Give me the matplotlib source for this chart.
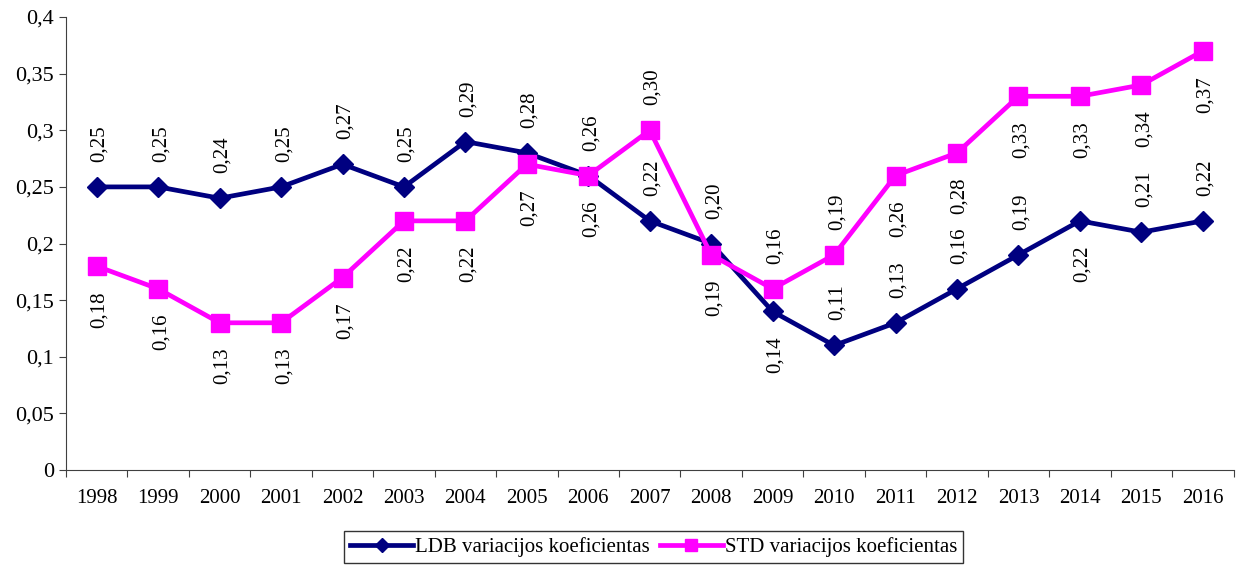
import matplotlib
matplotlib.use("Agg")
import matplotlib.pyplot as plt
from matplotlib.ticker import FixedLocator, FuncFormatter

plt.rcParams['font.family'] = ['Liberation Serif', 'DejaVu Serif']

years = [str(y) for y in range(1998, 2017)]
ldb = [0.25, 0.25, 0.24, 0.25, 0.27, 0.25, 0.29, 0.28, 0.26, 0.22,
       0.20, 0.14, 0.11, 0.13, 0.16, 0.19, 0.22, 0.21, 0.22]
std = [0.18, 0.16, 0.13, 0.13, 0.17, 0.22, 0.22, 0.27, 0.26, 0.30,
       0.19, 0.16, 0.19, 0.26, 0.28, 0.33, 0.33, 0.34, 0.37]
# +1 label above the point, -1 below
ldb_side = [1, 1, 1, 1, 1, 1, 1, 1, 1, 1, 1, -1, 1, 1, 1, 1, -1, 1, 1]
std_side = [-1, -1, -1, -1, -1, -1, -1, -1, -1, 1, -1, 1, 1, -1, -1, -1, -1, -1, -1]

LDB_COL = "#000080"
STD_COL = "#FF00FF"
FS = 15


def comma(v, pos=None):
    return ("%g" % round(v, 2)).replace(".", ",")


fig = plt.figure(figsize=(12.36, 5.67), dpi=100)
ax = fig.add_axes([0.0534, 0.171, 0.9446, 0.799])

x = list(range(len(years)))
ax.plot(x, ldb, color=LDB_COL, lw=3.4, marker="D", ms=10.5, label="LDB variacijos koeficientas", zorder=3)
ax.plot(x, std, color=STD_COL, lw=3.4, marker="s", ms=12.5, label="STD variacijos koeficientas", zorder=4)

for vals, sides in ((ldb, ldb_side), (std, std_side)):
    for xi, v, s in zip(x, vals, sides):
        ax.annotate(("%.2f" % v).replace(".", ","), (xi, v), xytext=(2, 18 * s),
                    textcoords="offset points", rotation=90, ha="center",
                    va="bottom" if s > 0 else "top", fontsize=FS)

ax.set_xlim(-0.5, len(years) - 0.5)
ax.set_ylim(0, 0.4)
ax.set_yticks([i * 0.05 for i in range(9)])
ax.yaxis.set_major_formatter(FuncFormatter(comma))
ax.xaxis.set_major_locator(FixedLocator([i - 0.5 for i in range(len(years) + 1)]))
ax.xaxis.set_major_formatter(FuncFormatter(lambda v, p: ""))
ax.xaxis.set_minor_locator(FixedLocator(x))
ax.set_xticklabels(years, minor=True)
ax.tick_params(axis="x", which="minor", length=0, pad=14, labelsize=FS)
ax.tick_params(axis="x", which="major", length=5, direction="out", color="#404040")
ax.tick_params(axis="y", length=5, direction="out", labelsize=16, color="#404040")
for sp in ("top", "right"):
    ax.spines[sp].set_visible(False)
for sp in ("left", "bottom"):
    ax.spines[sp].set_color("#404040")

leg = fig.legend(loc="upper center", bbox_to_anchor=(0.529, 0.0635), ncol=2,
                 frameon=True, fancybox=False, edgecolor="black", fontsize=FS,
                 handlelength=3.0, handletextpad=0.1, columnspacing=0.5,
                 borderpad=0.3, borderaxespad=0, markerscale=0.7)
leg.get_frame().set_linewidth(1.0)

fig.savefig("out.png", dpi=100)
